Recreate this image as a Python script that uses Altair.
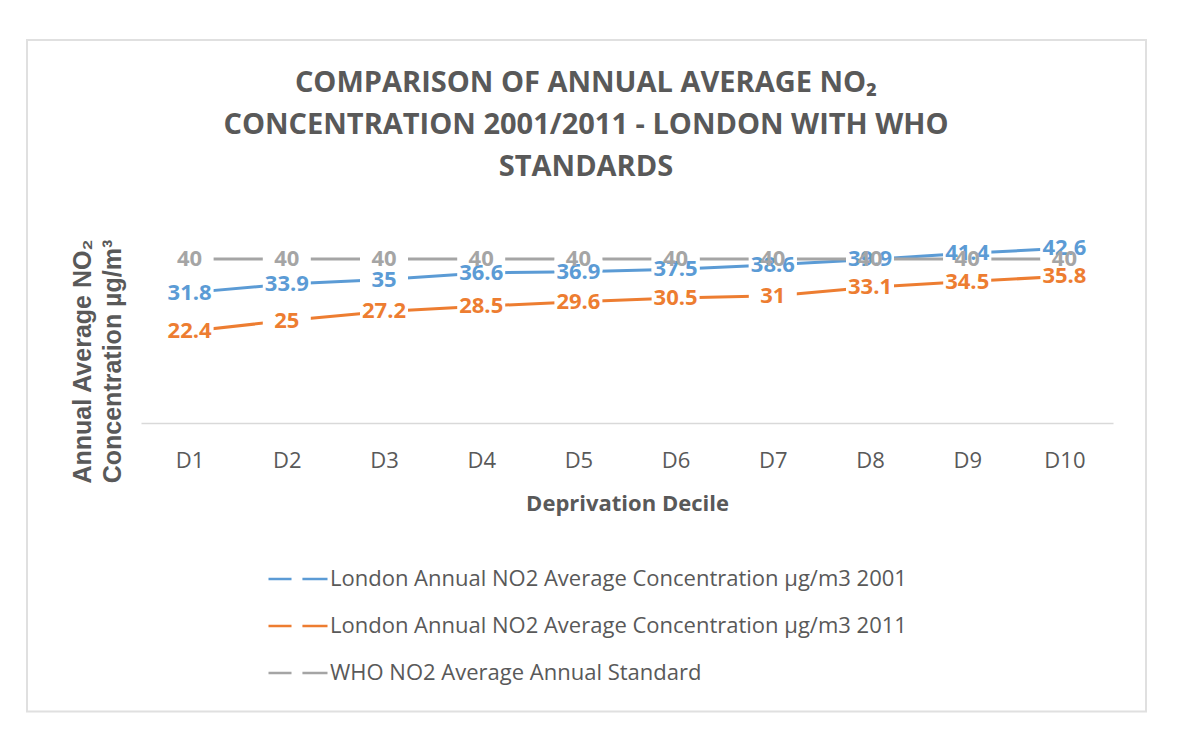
import altair as alt
import pandas as pd

deciles = ["D1", "D2", "D3", "D4", "D5", "D6", "D7", "D8", "D9", "D10"]
no2_2001 = [31.8, 33.9, 35, 36.6, 36.9, 37.5, 38.6, 39.9, 41.4, 42.6]
no2_2011 = [22.4, 25, 27.2, 28.5, 29.6, 30.5, 31, 33.1, 34.5, 35.8]
who_std = [40, 40, 40, 40, 40, 40, 40, 40, 40, 40]

series_names = [
    "London Annual NO2 Average Concentration µg/m3 2001",
    "London Annual NO2 Average Concentration µg/m3 2011",
    "WHO NO2 Average Annual Standard",
]
series_colors = ["#5b9bd5", "#ed7d31", "#a5a5a5"]
title_lines = ["COMPARISON OF ANNUAL AVERAGE NO₂",
               "CONCENTRATION 2001/2011 - LONDON WITH WHO", "STANDARDS"]

rows = []
for name, vals in zip(series_names, [no2_2001, no2_2011, who_std]):
    for d, v in zip(deciles, vals):
        rows.append({"decile": d, "value": v, "series": name})
df = pd.DataFrame(rows)

TXT = "#595959"
FONT = "Open Sans"

x_enc = alt.X("decile:N", sort=deciles, scale=alt.Scale(type="point", padding=0.5),
              axis=alt.Axis(title="Deprivation Decile", labelAngle=0, labelFont=FONT,
                            labelFontSize=22, labelColor=TXT, labelPadding=27,
                            ticks=False, grid=False, domainColor="#d9d9d9", domainWidth=1.3,
                            titleFont=FONT, titleFontSize=22, titleFontWeight="bold",
                            titleColor=TXT, titlePadding=22))
y_enc = alt.Y("value:Q", scale=alt.Scale(domain=[0, 50]),
              axis=alt.Axis(title=["Annual Average NO₂", "Concentration µg/m³"],
                            labels=False, ticks=False, grid=False, domain=False,
                            titleFont="Liberation Sans", titleFontSize=25,
                            titleFontWeight="bold", titleColor=TXT, titleAngle=270,
                            titleAlign="center", titleBaseline="alphabetic",
                            titleLineHeight=30, titleX=-51, titleY=143))
color_scale = alt.Scale(domain=series_names, range=series_colors)

lines = alt.Chart(df).mark_line(strokeWidth=3).encode(
    x=x_enc, y=y_enc,
    color=alt.Color("series:N", scale=color_scale,
                    legend=alt.Legend(title=None, orient="none", legendX=126, legendY=330,
                                      direction="vertical", labelFont=FONT, labelFontSize=22,
                                      labelColor=TXT, symbolType="M-1,0H-0.22M0.15,0H1",
                                      symbolSize=3481, symbolStrokeWidth=2.6,
                                      labelOffset=1, rowPadding=5, labelLimit=800)),
    detail="series:N",
)

boxes = alt.Chart(df).mark_point(shape="M-1,-0.5H1V0.5H-1Z", filled=True, fill="white",
                                 opacity=1, strokeWidth=0, size=2304).encode(
    x=alt.X("decile:N", sort=deciles), y="value:Q")

labels = alt.Chart(df).mark_text(font=FONT, fontSize=22, fontWeight="bold",
                                 align="center", baseline="middle").encode(
    x=alt.X("decile:N", sort=deciles), y="value:Q",
    text=alt.Text("value:Q", format=".1~f"),
    color=alt.Color("series:N", scale=color_scale),
)

frame = alt.Chart(pd.DataFrame({"k": [0]})).mark_rect(
    fill="white", fillOpacity=0, stroke="#e0e0e0", strokeWidth=2).encode(
    x=alt.value(-114), x2=alt.value(1005), y=alt.value(-178), y2=alt.value(493.5))

title = alt.Chart(pd.DataFrame({"k": [0]})).mark_text(
    text=title_lines, font=FONT, fontSize=29, fontWeight="bold", color=TXT,
    lineHeight=42, align="center", baseline="alphabetic").encode(
    x=alt.value(445), y=alt.value(-126))

chart = alt.layer(frame, title, lines, boxes, labels).properties(
    width=972, height=205,
    padding={"left": 133, "top": 210, "right": 70, "bottom": 300},
    autosize=alt.AutoSizeParams(type="none"),
    background="white",
).configure_view(stroke=None)

chart.save("out.html", embed_options={"renderer": "svg", "actions": False})
